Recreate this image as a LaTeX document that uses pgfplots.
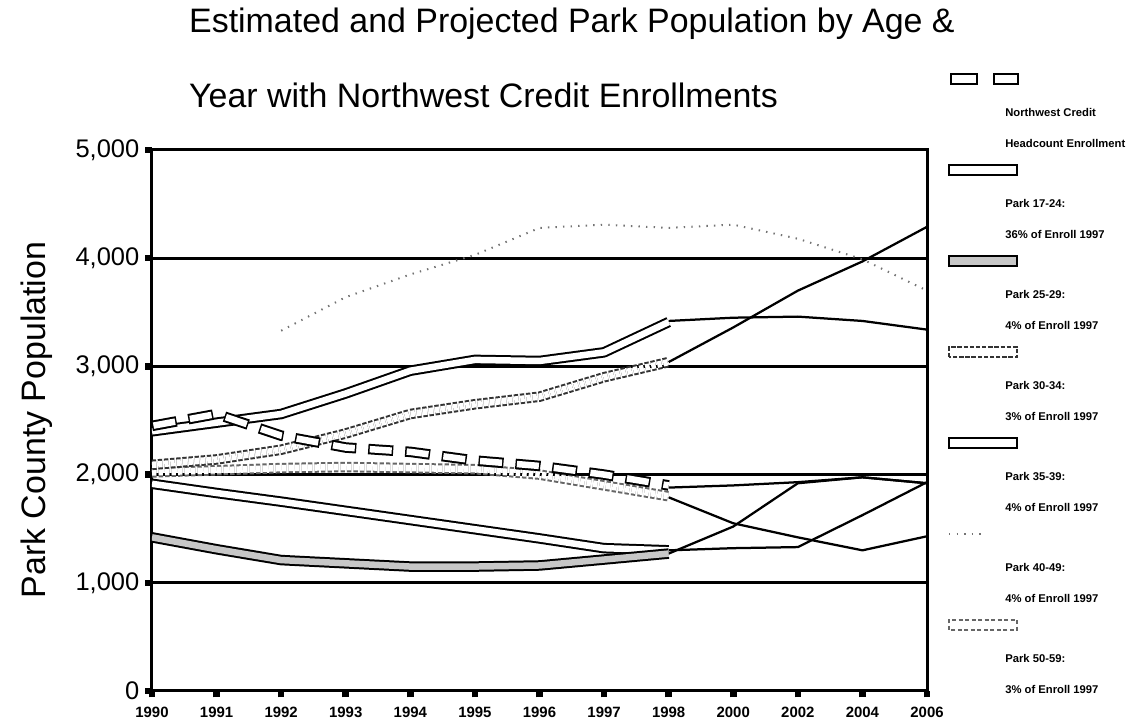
\documentclass[border=0pt]{standalone}
\usepackage{fontspec}
\setmainfont{Liberation Sans}
\usepackage{pgfplots}
\pgfplotsset{compat=1.18}

\pgfplotsset{
  ribbon/.style={black, line width=0.4mm, double=white, double distance=1.3mm, line join=round},
  proj/.style={black, line width=0.45mm},
}

\begin{document}
\begin{tikzpicture}[x=1mm,y=1mm]
\begin{axis}[
    at={(0,0)}, anchor=south west,
    scale only axis, width=155mm, height=108.2mm,
    xmin=0, xmax=12, ymin=0, ymax=5000,
    xtick={0,...,12},
    xticklabels={1990,1991,1992,1993,1994,1995,1996,1997,1998,2000,2002,2004,2006},
    ytick={0,1000,...,5000},
    yticklabels={0,{1,000},{2,000},{3,000},{4,000},{5,000}},
    ymajorgrids, grid style={black, line width=0.55mm},
    axis line style={line width=0.6mm},
    tick pos=left, tick align=outside, major tick length=1.3mm,
    tick style={black, line width=1.3mm},
    x tick label style={font=\fontsize{8.5}{10}\selectfont\bfseries, yshift=-0.6mm},
    y tick label style={font=\fontsize{14.5}{17}\selectfont},
]
% projected years, plain lines
\addplot[proj] coordinates {(8,1880) (9,1900) (10,1930) (11,1975) (12,1920)};
\addplot[proj] coordinates {(8,3420) (9,3450) (10,3460) (11,3420) (12,3340)};
\addplot[proj] coordinates {(8,1270) (9,1520) (10,1920) (11,1975) (12,1920)};
\addplot[proj] coordinates {(8,3040) (9,3360) (10,3700) (11,3970) (12,4290)};
\addplot[proj] coordinates {(8,1300) (9,1320) (10,1330) (11,1625) (12,1930)};
\addplot[proj] coordinates {(8,1790) (9,1550) (10,1420) (11,1300) (12,1430)};
% Park 40-49 (faint)
\addplot[black!55, line width=0.4mm, dash pattern=on 0.8pt off 3.5pt] coordinates {
  (2,3330) (3,3640) (4,3850) (5,4030) (6,4280) (7,4310) (8,4280) (9,4310) (10,4180) (11,3990) (12,3700)};
% Park 35-39
\addplot[ribbon] coordinates {
  (0,1915) (1,1830) (2,1750) (3,1665) (4,1580) (5,1495) (6,1410) (7,1320) (8,1300)};
% Park 25-29 (shaded)
\addplot[ribbon, double=black!22] coordinates {
  (0,1420) (1,1310) (2,1210) (3,1180) (4,1150) (5,1150) (6,1160) (7,1215) (8,1270)};
% Park 50-59 (light dotted)
\addplot[ribbon, black!60, dash pattern=on 2.5pt off 1.2pt] coordinates {
  (0,2020) (1,2040) (2,2060) (3,2070) (4,2060) (5,2050) (6,2000) (7,1900) (8,1800)};
% Park 30-34 (dotted)
\addplot[ribbon, black!80, dash pattern=on 2.5pt off 1pt] coordinates {
  (0,2090) (1,2140) (2,2230) (3,2380) (4,2560) (5,2650) (6,2720) (7,2900) (8,3040)};
% Park 17-24
\addplot[ribbon] coordinates {
  (0,2400) (1,2480) (2,2560) (3,2750) (4,2960) (5,3060) (6,3050) (7,3130) (8,3410)};
% Northwest Credit headcount enrollment (boxes)
\addplot[black, line width=2.1mm, line cap=butt, dash pattern=on 5mm off 2.4mm] coordinates {
  (0,2450) (1,2560) (2,2360) (3,2250) (4,2210) (5,2130) (6,2080) (7,2000) (8,1900)};
\addplot[white, line width=1.3mm, line cap=butt, dash pattern=on 4.4mm off 3mm, dash phase=7.1mm] coordinates {
  (0,2450) (1,2560) (2,2360) (3,2250) (4,2210) (5,2130) (6,2080) (7,2000) (8,1900)};
\end{axis}

% title
\node[anchor=base west, font=\fontsize{19.3}{22}\selectfont] at (6.2,131.6) {Estimated and Projected Park Population by Age \&};
\node[anchor=base west, font=\fontsize{19.3}{22}\selectfont] at (6.2,116.6) {Year with Northwest Credit Enrollments};
% y label
\node[rotate=90, font=\fontsize{19.3}{22}\selectfont] at (-23,54.2) {Park County Population};

% legend
\begin{scope}[line width=0.35mm]
  \draw (159.8,121.4) rectangle (165,123.4);
  \draw (168.4,121.4) rectangle (173.2,123.4);
  \draw (159.4,103.2) rectangle (173,105.2);
  \draw[fill=black!22] (159.4,85.0) rectangle (173,87.0);
  \draw[black!80, dash pattern=on 2.5pt off 1pt] (159.4,66.8) rectangle (173,68.8);
  \draw (159.4,48.6) rectangle (173,50.6);
  \draw[black!55, dash pattern=on 0.8pt off 3.5pt] (159.4,31.4) -- (166,31.4);
  \draw[black!60, dash pattern=on 2.5pt off 1.2pt] (159.4,12.2) rectangle (173,14.2);
\end{scope}
\foreach \k/\a/\b in {
  0/{Northwest Credit}/{Headcount Enrollment},
  1/{Park 17-24:}/{36\% of Enroll 1997},
  2/{Park 25-29:}/{4\% of Enroll 1997},
  3/{Park 30-34:}/{3\% of Enroll 1997},
  4/{Park 35-39:}/{4\% of Enroll 1997},
  5/{Park 40-49:}/{4\% of Enroll 1997},
  6/{Park 50-59:}/{3\% of Enroll 1997}} {
  \node[anchor=west, inner sep=0pt, font=\fontsize{6.4}{7.5}\selectfont\bfseries] at (170.6,122.4-18.2*\k-6.6) {\a};
  \node[anchor=west, inner sep=0pt, font=\fontsize{6.4}{7.5}\selectfont\bfseries] at (170.6,122.4-18.2*\k-12.8) {\b};
}

\pgfresetboundingbox
\path (-30.4,-7.4) rectangle (198.2,138.2);
\end{tikzpicture}
\end{document}
